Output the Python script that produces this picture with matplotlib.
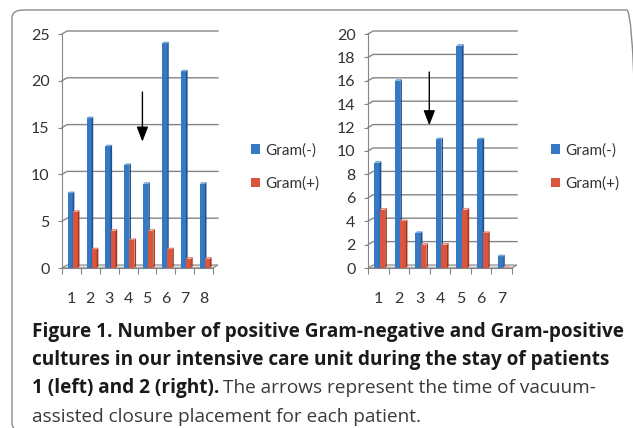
import numpy as np
import matplotlib.pyplot as plt
from matplotlib.patches import Polygon, FancyBboxPatch

# --------------------------
# Data
# --------------------------
days_left = [1, 2, 3, 4, 5, 6, 7, 8]
gram_neg_left = [8, 16, 13, 11, 9, 24, 21, 9]
gram_pos_left = [6, 2, 4, 3, 4, 2, 1, 1]
ticks_left = [0, 5, 10, 15, 20, 25]
arrow_left = (4.76, 18.8, 13.5)   # x, y start, y tip

days_right = [1, 2, 3, 4, 5, 6, 7]
gram_neg_right = [9, 16, 3, 11, 19, 11, 1]
gram_pos_right = [5, 4, 2, 2, 5, 3, 0]
ticks_right = [0, 2, 4, 6, 8, 10, 12, 14, 16, 18, 20]
arrow_right = (3.48, 16.75, 12.2)

labels = ['Gram(-)', 'Gram(+)']

W, H = 633, 428
BLUE, BLUE_SIDE, BLUE_TOP = '#3579c4', '#1d4f8c', '#6fa3db'
RED, RED_SIDE, RED_TOP = '#d9553e', '#a3351f', '#ec8c78'
GRID = '#858585'

plt.rcParams['font.family'] = ['Lato', 'DejaVu Sans']


def px_rect(x0, y0, x1, y1):
    return [x0 / W, 1 - y1 / H, (x1 - x0) / W, (y1 - y0) / H]


def bar3d(ax, x, h, w, color, side, top, dx, dy, z):
    # side and top faces that give the columns their Excel 3D look
    for xi, hi in zip(x, h):
        ax.add_patch(Polygon([(xi + w, 0), (xi + w + dx, dy), (xi + w + dx, hi + dy), (xi + w, hi)],
                             closed=True, color=side, zorder=z, lw=0))
        ax.add_patch(Polygon([(xi, hi), (xi + dx, hi + dy), (xi + w + dx, hi + dy), (xi + w, hi)],
                             closed=True, color=top, zorder=z, lw=0))


def panel(rect, days, neg, pos, yticks, arrow, slot_px, unit_px, legend_xy):
    ax = fig.add_axes(px_rect(*rect))
    n = len(days)
    x = np.array(days, dtype=float)
    gx, gy = 5 / slot_px, 3 / unit_px       # back wall offset
    bx, by = 1.6 / slot_px, 1.6 / unit_px   # bar depth

    # floor and back-wall gridlines
    ax.add_patch(Polygon([(0.5, 0), (n + 0.5, 0), (n + 0.5 + gx, gy), (0.5 + gx, gy)],
                         closed=True, facecolor='#e6e6e6', edgecolor=GRID, lw=0.8, zorder=1,
                         clip_on=False))
    for t in yticks[1:]:
        ax.plot([0.5, 0.5 + gx, n + 0.5 + gx], [t, t + gy, t + gy], color=GRID, lw=1.0,
                zorder=0.5, clip_on=False)

    w = 0.27
    b1 = ax.bar(x - 0.2, neg, width=w, align='edge', color=BLUE, zorder=3, label=labels[0])
    bar3d(ax, x - 0.2, neg, w, BLUE, BLUE_SIDE, BLUE_TOP, bx, by, 3)
    b2 = ax.bar(x + 0.07, pos, width=w, align='edge', color=RED, zorder=4, label=labels[1])
    bar3d(ax, x + 0.07, pos, w, RED, RED_SIDE, RED_TOP, bx, by, 4)

    ax.annotate('', xy=(arrow[0], arrow[2]), xytext=(arrow[0], arrow[1]),
                arrowprops=dict(arrowstyle='-|>,head_width=0.35,head_length=0.9',
                                color='black', lw=1.0, shrinkA=0, shrinkB=0), zorder=6)

    ax.set_xlim(0.5, n + 0.5)
    ax.set_ylim(0, yticks[-1])
    ax.set_yticks(yticks)
    ax.set_xticks(x)
    ax.set_xticklabels([str(d) for d in days])
    ax.set_xticks(np.arange(0.5, n + 1), minor=True)
    ax.tick_params(axis='y', length=3, width=0.8, color=GRID, pad=6, labelsize=11.5, labelcolor='#333333')
    ax.tick_params(axis='x', which='major', length=0, pad=17, labelsize=11.5, labelcolor='#333333')
    ax.tick_params(axis='x', which='minor', length=4, width=0.8, color=GRID)
    for s in ['top', 'right']:
        ax.spines[s].set_visible(False)
    for s in ['left', 'bottom']:
        ax.spines[s].set_color(GRID)
        ax.spines[s].set_linewidth(0.8)
    ax.patch.set_visible(False)

    fig.legend(handles=[b1, b2], labels=labels, loc='center left',
               bbox_to_anchor=(legend_xy[0] / W, 1 - legend_xy[1] / H), frameon=False,
               fontsize=11, handlelength=0.6, handleheight=0.6, handletextpad=0.35,
               labelspacing=1.25, borderpad=0, borderaxespad=0, labelcolor='#333333')
    return ax


fig = plt.figure(figsize=(W / 100, H / 100), dpi=100)

# rounded frame (right and bottom edges fall just outside the picture)
fig.patches.append(FancyBboxPatch((12 / W, 1 - 431 / H), 626 / W, 421 / H,
                                  boxstyle='round,pad=0,rounding_size=0.018',
                                  transform=fig.transFigure, fill=False,
                                  edgecolor='#8a8a8a', lw=1.0))

panel((62, 34, 213, 268), days_left, gram_neg_left, gram_pos_left, ticks_left, arrow_left,
      18.9, 234 / 25, (251, 167))
panel((368, 34, 512, 268), days_right, gram_neg_right, gram_pos_right, ticks_right, arrow_right,
      20.6, 234 / 20, (551, 167))

# caption, sized so its first line spans the same width as in the original
cap_font = ['Open Sans', 'DejaVu Sans']
renderer = fig.canvas.get_renderer()
t1 = fig.text(32 / W, 1 - 332 / H, 'Figure 1. Number of positive Gram-negative and Gram-positive',
              fontsize=12, fontweight='bold', color='#1a1a1a', va='center', family=cap_font)
cap_size = 12 * 593 / t1.get_window_extent(renderer=renderer).width
t1.set_fontsize(cap_size)
fig.text(32 / W, 1 - 360 / H, 'cultures in our intensive care unit during the stay of patients',
         fontsize=cap_size, fontweight='bold', color='#1a1a1a', va='center', family=cap_font)
t_bold = fig.text(32 / W, 1 - 388 / H, '1 (left) and 2 (right).',
                  fontsize=cap_size, fontweight='bold', color='#1a1a1a', va='center', family=cap_font)
bb = t_bold.get_window_extent(renderer=renderer)
fig.text((bb.x1 + 4) / W, 1 - 388 / H, 'The arrows represent the time of vacuum-',
         fontsize=cap_size, color='#3a3a3a', va='center', family=cap_font)
fig.text(32 / W, 1 - 417 / H, 'assisted closure placement for each patient.',
         fontsize=cap_size, color='#3a3a3a', va='center', family=cap_font)

fig.savefig('out.png', dpi=100)
